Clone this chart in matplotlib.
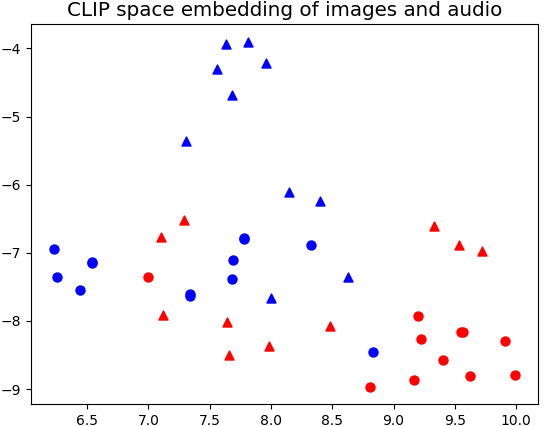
import matplotlib
matplotlib.use('Agg')
import matplotlib.pyplot as plt

# image embeddings (blue) / audio embeddings (red), circles and triangles
blue_circle_x = [6.23, 6.54, 6.54, 7.78, 7.78, 7.69, 8.33, 6.25, 6.44, 7.34, 7.34, 7.68, 8.83]
blue_circle_y = [-6.94, -7.13, -7.15, -6.80, -6.78, -7.11, -6.88, -7.36, -7.54, -7.61, -7.63, -7.38, -8.45]

blue_tri_x = [7.63, 7.81, 7.56, 7.96, 7.68, 7.31, 8.15, 8.40, 8.63, 8.00]
blue_tri_y = [-3.94, -3.90, -4.31, -4.21, -4.69, -5.36, -6.11, -6.24, -7.36, -7.66]

red_tri_x = [7.29, 7.10, 9.33, 9.53, 9.72, 7.12, 7.64, 7.66, 7.98, 8.48]
red_tri_y = [-6.52, -6.77, -6.61, -6.89, -6.98, -7.92, -8.02, -8.50, -8.37, -8.07]

red_circle_x = [7.00, 9.20, 9.22, 9.55, 9.57, 9.40, 9.91, 8.81, 9.17, 9.62, 9.99]
red_circle_y = [-7.36, -7.93, -8.27, -8.17, -8.16, -8.57, -8.30, -8.97, -8.86, -8.81, -8.80]

fig = plt.figure(figsize=(5.44, 4.26), dpi=100)
ax = fig.add_axes([0.057, 0.051, 0.932, 0.892])

ax.scatter(blue_circle_x, blue_circle_y, c='blue', marker='o', s=42)
ax.scatter(blue_tri_x, blue_tri_y, c='blue', marker='^', s=42)
ax.scatter(red_tri_x, red_tri_y, c='red', marker='^', s=42)
ax.scatter(red_circle_x, red_circle_y, c='red', marker='o', s=42)

ax.set_title('CLIP space embedding of images and audio', fontsize=14.3)
fig.savefig('out.png', dpi=100)
